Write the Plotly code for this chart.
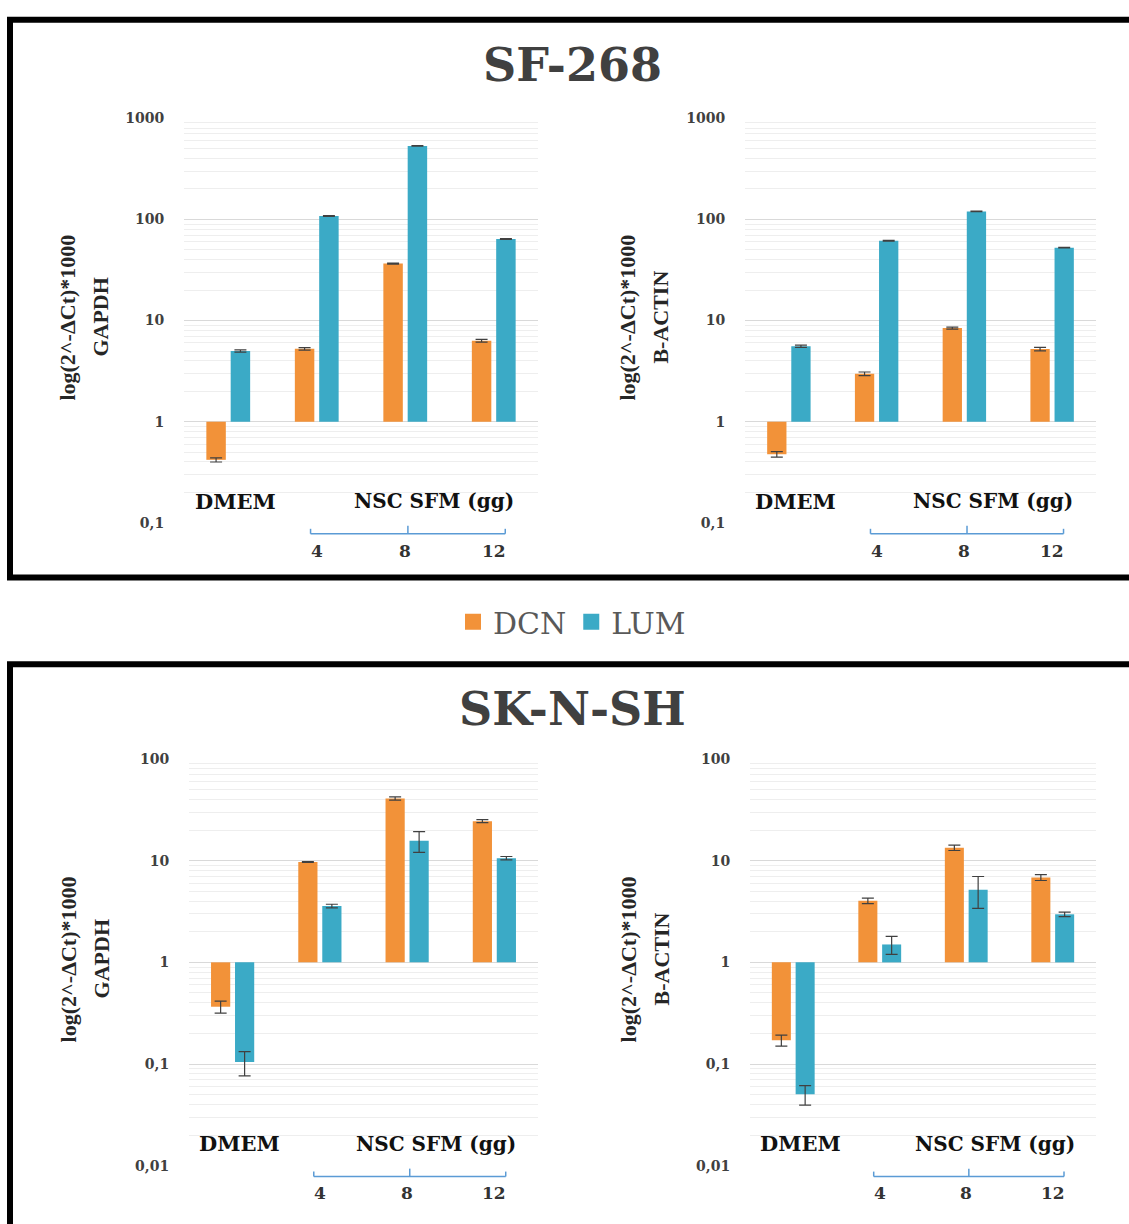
import plotly.graph_objects as go

# ---------------- data ----------------
categories = ["DMEM", "4", "8", "12"]
day_labels = ["4", "8", "12"]
series_names = ["DCN", "LUM"]

sf268_gapdh_dcn = [0.42, 5.25, 36.6, 6.33]
sf268_gapdh_dcn_err = [0.02, 0.15, 0.4, 0.2]
sf268_gapdh_lum = [5.0, 108, 532, 64]
sf268_gapdh_lum_err = [0.12, 1.0, 3.0, 0.5]

sf268_bact_dcn = [0.477, 2.98, 8.42, 5.22]
sf268_bact_dcn_err = [0.03, 0.12, 0.2, 0.2]
sf268_bact_lum = [5.58, 61.5, 120, 52.6]
sf268_bact_lum_err = [0.15, 0.5, 1.0, 0.4]

sknsh_gapdh_dcn = [0.366, 9.7, 40.9, 24.5]
sknsh_gapdh_dcn_err = [0.05, 0.1, 1.5, 0.8]
sknsh_gapdh_lum = [0.1045, 3.58, 15.7, 10.6]
sknsh_gapdh_lum_err = [0.028, 0.15, 3.6, 0.4]

sknsh_bact_dcn = [0.171, 4.03, 13.4, 6.84]
sknsh_bact_dcn_err = [0.021, 0.25, 0.8, 0.45]
sknsh_bact_lum = [0.0504, 1.50, 5.19, 2.97]
sknsh_bact_lum_err = [0.011, 0.3, 1.8, 0.15]

top_tickvals = [0.1, 1, 10, 100, 1000]
top_ticktext = ["0,1", "1", "10", "100", "1000"]
bot_tickvals = [0.01, 0.1, 1, 10, 100]
bot_ticktext = ["0,01", "0,1", "1", "10", "100"]

panel_titles = ["SF-268", "SK-N-SH"]
ytitle_main = "log(2^-ΔCt)*1000"
ytitle_refs = ["GAPDH", "B-ACTIN"]
group_main = "DMEM"
group_nsc = "NSC SFM (gg)"

# ---------------- styling ----------------
W, H = 1129, 1224
ORANGE = "#F29239"
BLUE = "#3BAAC6"
BASE = 1.0


def px(x):
    return x / W


def py(y):
    return 1 - y / H


fig = go.Figure()

panels = [
    ("x", "y", sf268_gapdh_dcn, sf268_gapdh_dcn_err, sf268_gapdh_lum, sf268_gapdh_lum_err,
     (184, 538), (111.7, 521.7), [-1, 3], top_tickvals, top_ticktext, ytitle_refs[0]),
    ("x2", "y2", sf268_bact_dcn, sf268_bact_dcn_err, sf268_bact_lum, sf268_bact_lum_err,
     (745, 1096), (111.7, 521.7), [-1, 3], top_tickvals, top_ticktext, ytitle_refs[1]),
    ("x3", "y3", sknsh_gapdh_dcn, sknsh_gapdh_dcn_err, sknsh_gapdh_lum, sknsh_gapdh_lum_err,
     (189, 538), (761, 1173), [-2, 2], bot_tickvals, bot_ticktext, ytitle_refs[0]),
    ("x4", "y4", sknsh_bact_dcn, sknsh_bact_dcn_err, sknsh_bact_lum, sknsh_bact_lum_err,
     (750, 1096), (761, 1173), [-2, 2], bot_tickvals, bot_ticktext, ytitle_refs[1]),
]

annotations = []
shapes = []
layout_axes = {}

for i, (xa, ya, dcn, dcn_e, lum, lum_e, xpix, ypix, yr, tv, tt, ref) in enumerate(panels):
    for name, vals, errs, col in [("DCN", dcn, dcn_e, ORANGE), ("LUM", lum, lum_e, BLUE)]:
        fig.add_trace(go.Bar(
            x=categories, y=[v - BASE for v in vals], base=BASE,
            name=name, marker=dict(color=col, line=dict(width=0)),
            error_y=dict(type="data", array=errs, visible=True, color="#404040",
                         thickness=1.2, width=6),
            xaxis=xa, yaxis=ya, showlegend=False,
        ))
    xkey = "xaxis" + xa[1:]
    ykey = "yaxis" + ya[1:]
    layout_axes[xkey] = dict(
        domain=[px(xpix[0]), px(xpix[1])], anchor=ya, type="category",
        showticklabels=False, showgrid=False, zeroline=False, showline=False,
        range=[-0.5, 3.5], fixedrange=True,
    )
    layout_axes[ykey] = dict(
        domain=[py(ypix[1]), py(ypix[0])], anchor=xa, type="log", range=yr,
        tickmode="array", tickvals=tv, ticktext=tt,
        tickfont=dict(family="DejaVu Serif", size=14, color="#404040", weight="bold"),
        ticks="outside", ticklen=16, tickcolor="rgba(0,0,0,0)",
        showgrid=True, gridcolor="#d9d9d9", gridwidth=1,
        minor=dict(dtick="D1", showgrid=True, gridcolor="#eeeeee", gridwidth=1, ticks=""),
        zeroline=False, showline=False,
    )

    # y titles (two lines, rotated)
    ymid = (ypix[0] + ypix[1]) / 2 - 3
    xl = xpix[0] - 116 if i % 2 == 0 else xpix[0] - 117
    if i >= 2:
        xl -= 5
    annotations.append(dict(
        text="<b>" + ytitle_main + "</b>", xref="paper", yref="paper",
        x=px(xl), y=py(ymid), textangle=-90, showarrow=False,
        font=dict(family="Liberation Serif", size=22, color="#262626"),
        xanchor="center", yanchor="middle"))
    annotations.append(dict(
        text="<b>" + ref + "</b>", xref="paper", yref="paper",
        x=px(xl + 33), y=py(ymid), textangle=-90, showarrow=False,
        font=dict(family="Liberation Serif", size=22, color="#262626"),
        xanchor="center", yanchor="middle"))

    # multi-level category labels
    ylab_main = ypix[1] - 22
    annotations.append(dict(
        text="<b>" + group_main + "</b>", xref=xa, yref="paper", x=0.08, y=py(ylab_main),
        showarrow=False, font=dict(family="DejaVu Serif", size=21, color="#111111"),
        xanchor="center", yanchor="middle"))
    annotations.append(dict(
        text="<b>" + group_nsc + "</b>", xref=xa, yref="paper", x=2.33, y=py(ylab_main),
        showarrow=False, font=dict(family="DejaVu Serif", size=20, color="#111111"),
        xanchor="center", yanchor="middle"))
    ynum = ypix[1] + 28
    for lab in day_labels:
        annotations.append(dict(
            text="<b>" + lab + "</b>", xref=xa, yref="paper", x=categories.index(lab),
            y=py(ynum), showarrow=False,
            font=dict(family="DejaVu Serif", size=17, color="#333333"),
            xanchor="center", yanchor="middle"))
    ybr = ypix[1] + 11
    bcol = "#5B9BD5"
    shapes.append(dict(type="line", xref=xa, yref="paper", x0=0.93, x1=3.13,
                       y0=py(ybr), y1=py(ybr), line=dict(color=bcol, width=1.5)))
    for xb in (0.93, 3.13):
        shapes.append(dict(type="line", xref=xa, yref="paper", x0=xb, x1=xb,
                           y0=py(ybr), y1=py(ybr - 5), line=dict(color=bcol, width=1.5)))
    shapes.append(dict(type="line", xref=xa, yref="paper", x0=2.03, x1=2.03,
                       y0=py(ybr), y1=py(ybr - 8), line=dict(color=bcol, width=1.5)))

# legend entries (square markers)
for name, col in [("DCN", ORANGE), ("LUM", BLUE)]:
    fig.add_trace(go.Scatter(
        x=[None], y=[None], mode="markers", name=name,
        marker=dict(symbol="square", size=16, color=col),
        xaxis="x", yaxis="y", showlegend=True))

# panel titles
for title, ty in zip(panel_titles, (58, 710)):
    annotations.append(dict(
        text="<b>" + title + "</b>", xref="paper", yref="paper", x=px(572), y=py(ty),
        showarrow=False, font=dict(family="DejaVu Serif", size=46, color="#404040"),
        xanchor="center", yanchor="middle"))

# panel frames
shapes.append(dict(type="rect", xref="paper", yref="paper", x0=px(10), x1=1.2,
                   y0=py(577), y1=py(12), line=dict(color="black", width=6),
                   fillcolor="rgba(0,0,0,0)", layer="below"))
shapes.append(dict(type="rect", xref="paper", yref="paper", x0=px(10), x1=1.2,
                   y0=-0.2, y1=py(665), line=dict(color="black", width=6),
                   fillcolor="rgba(0,0,0,0)", layer="below"))

fig.update_layout(
    width=W, height=H,
    margin=dict(l=0, r=0, t=0, b=0),
    paper_bgcolor="white", plot_bgcolor="white",
    barmode="group", bargap=0.45, bargroupgap=0.2,
    showlegend=True,
    legend=dict(orientation="h", x=px(572), xanchor="center", y=py(622), yanchor="middle",
                font=dict(family="DejaVu Serif", size=30, color="#595959"),
                itemwidth=30, tracegroupgap=0, bgcolor="rgba(0,0,0,0)"),
    annotations=annotations,
    shapes=shapes,
    **layout_axes,
)

fig.write_html("out.html",
               config={"displayModeBar": False},
               post_script="document.body.style.margin='0px';document.body.style.overflow='hidden';")
